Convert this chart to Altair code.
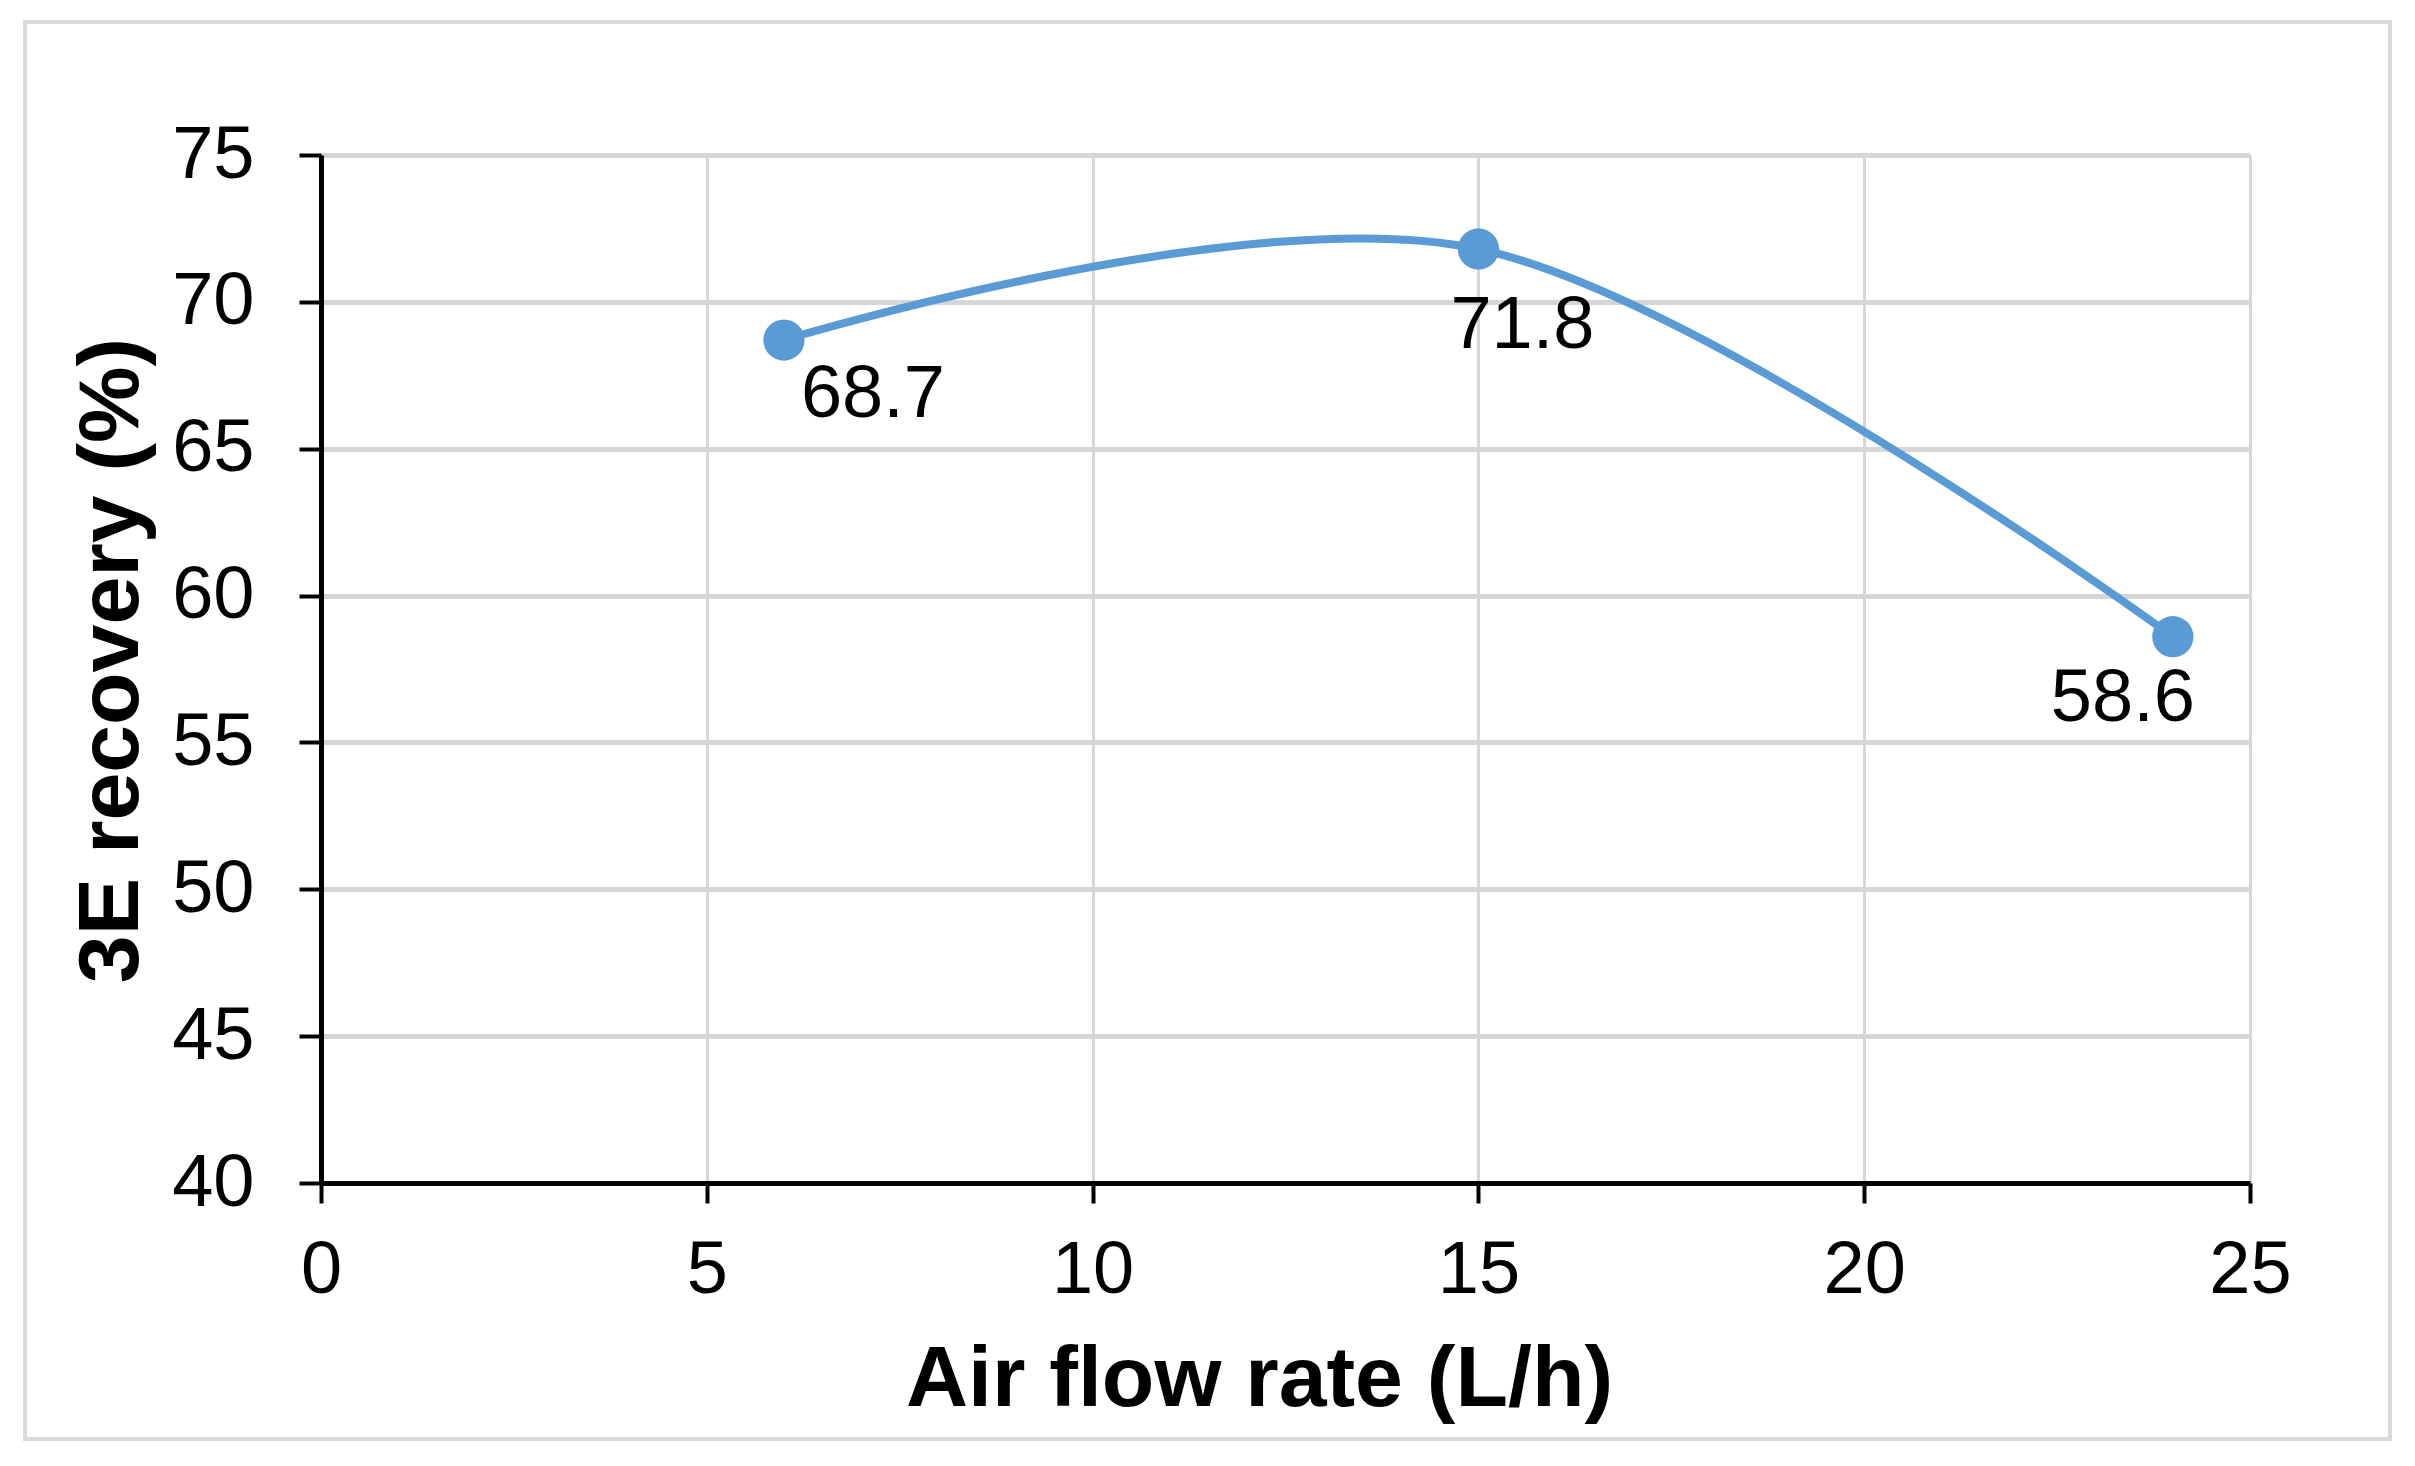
import altair as alt
import pandas as pd

# ---- data ----
air_flow = [6, 15, 24]
recovery = [68.7, 71.8, 58.6]
point_labels = ["68.7", "71.8", "58.6"]
x_ticks = [0, 5, 10, 15, 20, 25]
y_ticks = [40, 45, 50, 55, 60, 65, 70, 75]

df = pd.DataFrame({"flow": air_flow, "rec": recovery, "lab": point_labels})

FONT = "Liberation Sans"
BLUE = "#5B9BD5"
GRID = "#d6d6d6"

W, H = 1929, 1028

x_enc = alt.X(
    "flow:Q",
    scale=alt.Scale(domain=[0, 25], nice=False, zero=False),
    axis=alt.Axis(
        values=x_ticks, title="Air flow rate (L/h)", format="d",
        domainColor="black", domainWidth=5,
        tickColor="black", tickWidth=4, tickSize=20,
        labelFont=FONT, labelFontSize=74, labelColor="black", labelPadding=31,
        labelFlush=False,
        grid=True, gridColor=GRID, gridWidth=3,
        titleFont=FONT, titleFontSize=86, titleFontWeight="bold", titleColor="black",
        titleX=938, titleY=222, titleAlign="center", titleBaseline="alphabetic",
    ),
)
y_enc = alt.Y(
    "rec:Q",
    scale=alt.Scale(domain=[40, 75], nice=False, zero=False),
    axis=alt.Axis(
        values=y_ticks, title="3E recovery (%)", format="d",
        domainColor="black", domainWidth=5,
        tickColor="black", tickWidth=4, tickSize=22,
        labelFont=FONT, labelFontSize=74, labelColor="black", labelPadding=45,
        labelFlush=False,
        grid=True, gridColor=GRID, gridWidth=5,
        titleFont=FONT, titleFontSize=86, titleFontWeight="bold", titleColor="black",
        titleX=-184, titleY=505, titleAlign="center", titleBaseline="alphabetic",
        titleAngle=270,
    ),
)

base = alt.Chart(df)

frame = alt.Chart(alt.Data(values=[{"a": 1}])).mark_rect(
    fillOpacity=0, stroke="#d9d9d9", strokeWidth=4, clip=False
).encode(
    x=alt.value(-296), x2=alt.value(2069), y=alt.value(-133), y2=alt.value(1284)
)

line = base.mark_line(
    color=BLUE, strokeWidth=8, interpolate="cardinal", tension=0
).encode(x=x_enc, y=y_enc)

pts = base.mark_point(
    filled=True, shape="circle", size=1700, color=BLUE, opacity=1
).encode(x="flow:Q", y="rec:Q")

def label_layer(lbl, dx, dy):
    return base.transform_filter(alt.datum.lab == lbl).mark_text(
        font=FONT, fontSize=74, color="black", align="center",
        baseline="middle", dx=dx, dy=dy
    ).encode(x="flow:Q", y="rec:Q", text="lab:N")

texts = [
    label_layer("68.7", 89, 55),
    label_layer("71.8", 44, 77),
    label_layer("58.6", -50, 62),
]

chart = alt.layer(frame, line, pts, *texts).properties(
    width=W, height=H,
    autosize=alt.AutoSizeParams(type="none"),
    padding={"left": 313, "top": 147, "right": 150, "bottom": 260},
).configure_view(
    stroke="black", strokeWidth=5
).configure(background="white")

chart.save("out.html", embed_options={"renderer": "svg", "actions": False})
